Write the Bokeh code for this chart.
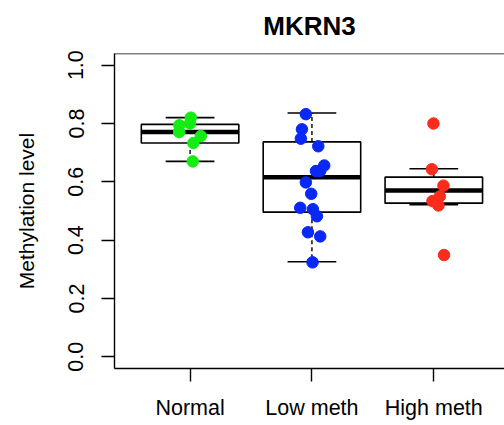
from bokeh.plotting import figure
from bokeh.models import FixedTicker, Span, Range1d
from bokeh.embed import file_html
from bokeh.resources import INLINE

# ---- data ----
categories = ["Normal", "Low meth", "High meth"]
normal_vals = [0.820, 0.800, 0.794, 0.771, 0.757, 0.733, 0.670]
normal_jit = [0.006, 0.0, -0.088, -0.090, 0.088, 0.027, 0.022]
low_vals = [0.832, 0.780, 0.748, 0.722, 0.656, 0.637, 0.637, 0.598, 0.559,
            0.511, 0.506, 0.482, 0.427, 0.413, 0.324]
low_jit = [-0.050, -0.082, -0.091, 0.052, 0.101, 0.033, 0.068, -0.050, -0.006,
           -0.096, 0.008, 0.041, -0.033, 0.068, 0.005]
high_vals = [0.800, 0.643, 0.587, 0.550, 0.534, 0.519, 0.349]
high_jit = [-0.003, -0.016, 0.079, 0.049, -0.011, 0.038, 0.084]

# boxplot statistics
whisk_lo = [0.670, 0.326, 0.522]
q1 = [0.733, 0.496, 0.527]
med = [0.771, 0.616, 0.570]
q3 = [0.797, 0.737, 0.616]
whisk_hi = [0.820, 0.836, 0.645]

colors = ["#14EC14", "#0A28F5", "#FA2C1C"]
title = "MKRN3"
ylabel = "Methylation level"
yticks = [0.0, 0.2, 0.4, 0.6, 0.8, 1.0]

FONT = "Liberation Sans"

p = figure(width=504, height=425, output_backend="svg", toolbar_location=None,
           x_range=Range1d(0.38, 3.58), y_range=Range1d(-0.04, 1.04),
           min_border_left=114, min_border_right=0, min_border_top=53,
           min_border_bottom=57)
p.title.text = title
p.title.text_font = FONT
p.title.text_font_size = "26px"
p.title.text_font_style = "bold"
p.title.text_color = "black"
p.title.align = "center"
p.title.vertical_align = "top"
p.title.offset = 4
p.title.standoff = 21

p.grid.visible = False
p.outline_line_color = None
p.background_fill_color = "white"
p.border_fill_color = "white"

xs = [1, 2, 3]
bw = 0.4
# boxes
p.quad(left=[x - bw for x in xs], right=[x + bw for x in xs], bottom=q1, top=q3,
       fill_color="white", line_color="black", line_width=1.6)
# whiskers (dashed)
p.segment(x0=xs, y0=q3, x1=xs, y1=whisk_hi, line_color="black", line_width=1.4,
          line_dash="4 3")
p.segment(x0=xs, y0=q1, x1=xs, y1=whisk_lo, line_color="black", line_width=1.4,
          line_dash="4 3")
# staples
p.segment(x0=[x - 0.2 for x in xs], y0=whisk_hi, x1=[x + 0.2 for x in xs], y1=whisk_hi,
          line_color="black", line_width=1.6)
p.segment(x0=[x - 0.2 for x in xs], y0=whisk_lo, x1=[x + 0.2 for x in xs], y1=whisk_lo,
          line_color="black", line_width=1.6)
# medians
p.segment(x0=[x - bw for x in xs], y0=med, x1=[x + bw for x in xs], y1=med,
          line_color="black", line_width=4.5)

# points
for i, (vals, jit) in enumerate([(normal_vals, normal_jit), (low_vals, low_jit),
                                 (high_vals, high_jit)]):
    p.scatter(x=[xs[i] + j for j in jit], y=vals, size=11.5, marker="circle",
              fill_color=colors[i], line_color=colors[i])

# top frame line
p.add_layout(Span(location=p.y_range.end, dimension="width", line_color="black",
                  line_width=1.4))

# axes
for ax in (p.xaxis[0], p.yaxis[0]):
    ax.axis_line_color = "black"
    ax.axis_line_width = 1.4
    ax.major_tick_line_color = "black"
    ax.major_tick_line_width = 1.4
    ax.major_tick_in = 0
    ax.major_tick_out = 13
    ax.minor_tick_line_color = None
    ax.major_label_text_font = FONT
    ax.major_label_text_font_size = "21.5px"
    ax.major_label_text_color = "black"
    ax.axis_label_text_font = FONT
    ax.axis_label_text_font_size = "21px"
    ax.axis_label_text_font_style = "normal"
    ax.axis_label_text_color = "black"

p.xaxis.ticker = FixedTicker(ticks=xs)
p.xaxis.major_label_overrides = {x: c for x, c in zip(xs, categories)}
p.xaxis.major_label_standoff = 14

p.yaxis.ticker = FixedTicker(ticks=yticks)
p.yaxis.major_label_overrides = {t: f"{t:.1f}" for t in yticks}
p.yaxis.major_label_orientation = "parallel"
p.yaxis.major_label_standoff = 18
p.yaxis.axis_label = ylabel
p.yaxis.axis_label_standoff = 28

open("out.html", "w").write(file_html(p, INLINE))
